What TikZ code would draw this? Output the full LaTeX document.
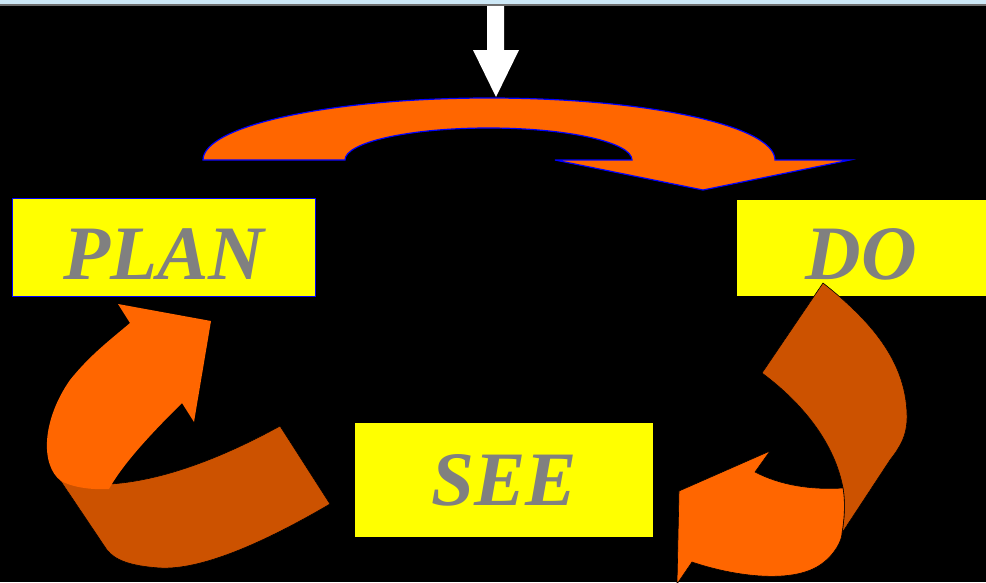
\documentclass[tikz,border=0pt]{standalone}
\usepackage{fontspec}
\setmainfont{Liberation Serif}
\usetikzlibrary{positioning}
\definecolor{arrorange}{HTML}{FF6600}
\definecolor{arrdark}{HTML}{CC5200}
\definecolor{stageyellow}{HTML}{FFFF00}
\definecolor{stagegray}{HTML}{808080}
\definecolor{topblue}{HTML}{CDE8F6}
\definecolor{topgray}{HTML}{6E6E6E}

\begin{document}
\begin{tikzpicture}[x=1pt, y=-1pt,
    stage/.style={fill=stageyellow, text=stagegray, inner sep=0pt,
        font=\fontsize{77}{77}\selectfont\bfseries\itshape,
        text height=50pt, text depth=0pt},
    loopband/.style={fill=arrdark, draw=black, line width=0.6pt},
    loophead/.style={fill=arrorange}]
            \useasboundingbox (0,0) rectangle (986,582);
            \fill[black] (0,0) rectangle (986,582);
            \fill[topblue] (0,0) rectangle (986,4);
            \fill[topgray] (0,4) rectangle (986,6);

            \node[stage, text height=64pt, draw=blue, line width=1.5pt, minimum width=303pt, minimum height=98pt] (plan) at (164,247.5) {PLAN};
            \node[stage, text height=63pt, minimum width=250pt, minimum height=96pt] (do) at (861.5,248) {DO};
            \node[stage, text height=50pt, minimum width=298pt, minimum height=114pt] (see) at (504,480) {SEE};

            \coordinate (in) at (496,97);
            \fill[white] (487,6) -- (504,6) -- (504,50) -- (519,50) -- (in) -- (473,50) -- (487,50) -- cycle;

            \coordinate (toptip) at (703,190);
            \filldraw[fill=arrorange, draw=blue, line width=1.2pt]
                (203,160) arc[start angle=180, end angle=360, x radius=286, y radius=62]
                -- (850,160) -- (toptip) -- (555,160) -- (632,160)
                arc[start angle=360, end angle=180, x radius=143.5, y radius=32] -- cycle;

            \coordinate (plantip) at (211,321);
            \filldraw[loopband] (60,480) .. controls (120,495) and (200,470) .. (280,426) -- (330,504)
                .. controls (260,545) and (200,570) .. (160,568)
                .. controls (130,566) and (115,560) .. (107,550) -- cycle;
            \fill[loophead] (61,481) .. controls (40,465) and (42,420) .. (70,380)
                .. controls (90,355) and (110,340) .. (130,323) -- (118,304) -- (plantip)
                -- (194,422) -- (182,403) .. controls (160,425) and (125,460) .. (109,489)
                .. controls (90,490) and (72,487) .. (61,481) -- cycle;

            \coordinate (seetip) at (677,584);
            \filldraw[loopband] (823,283) .. controls (870,320) and (905,360) .. (907,413)
                .. controls (908,435) and (900,447) .. (890,460) -- (842,533)
                .. controls (845,515) and (845,500) .. (843,488)
                .. controls (835,445) and (805,405) .. (762,373) -- cycle;
            \filldraw[loophead, draw=black, line width=0.6pt] (843,488) .. controls (810,490) and (780,485) .. (755,472)
                -- (770,451) -- (679,491) -- (seetip) -- (692,562)
                .. controls (730,575) and (790,585) .. (820,565)
                .. controls (835,555) and (842,540) .. (842,533)
                .. controls (845,515) and (845,500) .. (843,488) -- cycle;
        \end{tikzpicture}
\end{document}
